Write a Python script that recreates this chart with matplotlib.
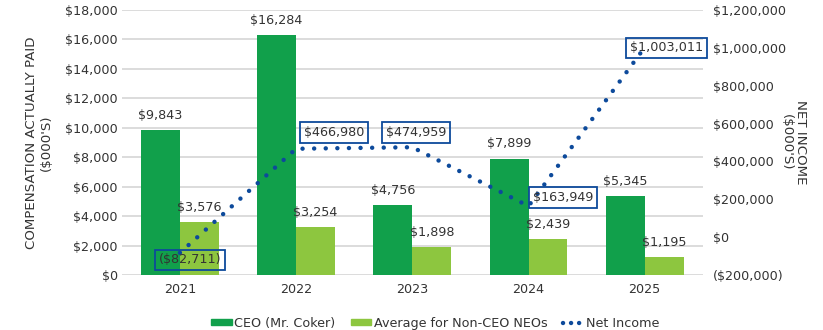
import numpy as np
import matplotlib.pyplot as plt
from matplotlib.patches import Patch
from matplotlib.lines import Line2D

years = ['2021', '2022', '2023', '2024', '2025']
ceo = [9843, 16284, 4756, 7899, 5345]
neo_avg = [3576, 3254, 1898, 2439, 1195]
net_income = [-82711, 466980, 474959, 163949, 1003011]

# where each net income box sits (x in category units, y on the right axis)
ni_box_x = [0.09, 1.33, 2.03, 3.30, 4.19]
ni_box_y = [-120000, 554000, 554000, 211000, 1000000]

dark_green = '#11a04b'
light_green = '#8dc63f'
blue = '#0d4a9b'
txt = '#333333'
fs = 9.2

plt.rcParams['font.family'] = 'DejaVu Sans'

fig = plt.figure(figsize=(8.23, 3.3), dpi=100)
ax = fig.add_axes([0.148, 0.1667, 0.706, 0.803])
x = np.arange(len(years))
w = 0.335

ax.bar(x - w/2, ceo, w, color=dark_green, zorder=2)
ax.bar(x + w/2, neo_avg, w, color=light_green, zorder=2)

for i in range(len(years)):
    ax.annotate('${:,}'.format(ceo[i]), (x[i] - w/2, ceo[i]), xytext=(0, 6),
                textcoords='offset points', ha='center', va='bottom',
                fontsize=fs, color=txt)
    ax.annotate('${:,}'.format(neo_avg[i]), (x[i] + w/2, neo_avg[i]), xytext=(0, 6),
                textcoords='offset points', ha='center', va='bottom',
                fontsize=fs, color=txt)

ax.set_xlim(-0.5, 4.5)
ax.set_ylim(0, 18000)
ax.set_yticks(range(0, 18001, 2000))
ax.set_yticklabels(['${:,}'.format(v) for v in range(0, 18001, 2000)], fontsize=fs, color=txt)
ax.set_xticks(x)
ax.set_xticklabels(years, fontsize=fs, color=txt)
ax.tick_params(axis='y', length=0, pad=3)
ax.tick_params(axis='x', length=0, pad=6)
ax.grid(axis='y', color='#d9d9d9', lw=1.3, zorder=0)
ax.set_axisbelow(True)
for s in ax.spines.values():
    s.set_visible(False)
ax.set_ylabel("COMPENSATION ACTUALLY PAID\n($000'S)", fontsize=9.6, color=txt,
              labelpad=9, linespacing=1.1)

ax2 = ax.twinx()
ax2.set_ylim(-200000, 1200000)
ticks2 = list(range(-200000, 1200001, 200000))
ax2.set_yticks(ticks2)
ax2.set_yticklabels(['(${:,})'.format(-v) if v < 0 else '${:,}'.format(v) for v in ticks2],
                    fontsize=fs, color=txt)
ax2.tick_params(length=0, pad=7)
for s in ax2.spines.values():
    s.set_visible(False)
ax2.set_ylabel("NET INCOME\n($000'S)", fontsize=9.6, color=txt, rotation=270,
               labelpad=15, linespacing=1.1)

ax2.plot(x, net_income, color=blue, lw=3.2, linestyle=(0, (0.01, 2.6)),
         dash_capstyle='round', zorder=3)

for i in range(len(years)):
    v = net_income[i]
    label = '(${:,})'.format(-v) if v < 0 else '${:,}'.format(v)
    ax2.text(ni_box_x[i], ni_box_y[i], label, ha='center', va='center',
             fontsize=fs, color=txt, zorder=4,
             bbox=dict(boxstyle='square,pad=0.3', fc='none', ec=blue, lw=1.3))

handles = [Patch(color=dark_green), Patch(color=light_green),
           Line2D([0], [0], color=blue, lw=3.2, linestyle=(0, (0.01, 1.8)),
                  dash_capstyle='round')]
fig.legend(handles, ['CEO (Mr. Coker)', 'Average for Non-CEO NEOs', 'Net Income'],
           loc='lower center', bbox_to_anchor=(0.529, -0.035), ncol=3, frameon=False,
           fontsize=fs, handlelength=1.6, handleheight=0.35, handletextpad=0.2,
           columnspacing=1.2, labelcolor=txt)

fig.savefig('out.png', dpi=100)
